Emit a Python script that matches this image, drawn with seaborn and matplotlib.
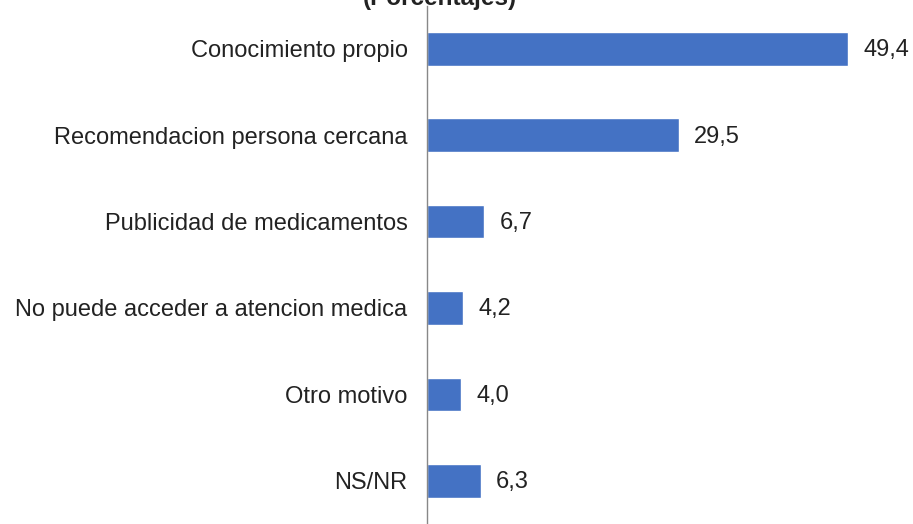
import seaborn as sns
import matplotlib.pyplot as plt

categorias = [
    "Conocimiento propio",
    "Recomendacion persona cercana",
    "Publicidad de medicamentos",
    "No puede acceder a atencion medica",
    "Otro motivo",
    "NS/NR",
]
porcentajes = [49.4, 29.5, 6.7, 4.2, 4.0, 6.3]

sns.set_style("white")
plt.rcParams["font.family"] = ["Liberation Sans", "DejaVu Sans"]

fig = plt.figure(figsize=(9.13, 5.24), dpi=100)
ax = fig.add_axes([0.4677, 0.0, 0.5323, 0.9895])

sns.barplot(x=porcentajes, y=categorias, color="#4472C4", width=0.39,
            saturation=1, ax=ax)

for i, v in enumerate(porcentajes):
    ax.annotate(f"{v:.1f}".replace(".", ","), (v, i), xytext=(11, -1),
                textcoords="offset points", va="center", ha="left",
                fontsize=17, color="#222222")

ax.set_xlim(0, 57)
ax.set_ylim(5.5, -0.5)
ax.set_xticks([])
ax.set_xlabel("")
ax.set_ylabel("")
ax.tick_params(axis="y", length=0, pad=14, labelsize=17, labelcolor="#222222")
for s in ["top", "right", "bottom"]:
    ax.spines[s].set_visible(False)
ax.spines["left"].set_color("#888888")
ax.spines["left"].set_linewidth(1)

# titulo recortado en el borde superior, como en el original
fig.text(0.482, 0.9905, "(Porcentajes)", ha="center", va="baseline",
         fontsize=17.5, fontweight="bold", color="#222222")

fig.savefig("out.png", dpi=100)
